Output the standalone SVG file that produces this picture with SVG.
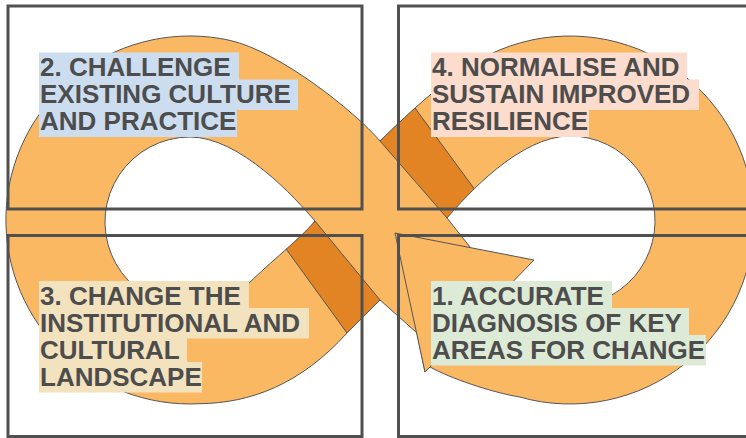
<svg xmlns="http://www.w3.org/2000/svg" width="746" height="438" viewBox="0 0 746 438">
<defs>
<style>
.band{fill:#FAB863;stroke:none}
.edge{fill:none;stroke:#555;stroke-width:1}
.dark{fill:#E28424;stroke:none}
.box{fill:none;stroke:#505050;stroke-width:3}
.lbl{font-family:"Liberation Sans",Arial,sans-serif;font-weight:bold;font-size:26px;fill:#4d4d4d}
</style>
<path id="loopShape" d="M380,141 C409,113 453.7,69 500,49.8 A184,184 0 1 1 520,397.1 C490,392 450,378 430,367 L425,372 L417,333 L380,300 L347,333 C300,385 250,403 200,403.7 A184,184 0 1 1 230,40.4 C278.8,51.3 354,110.6 380,141 Z M315,221 C295.5,198.2 240,137 190,137 A85,85 0 1 0 250,282.2 C267.7,264.5 302.4,236.6 315,221 Z M447,218 C466.6,195.3 520,136 570,136 A85,85 0 1 1 530,296 L500,292 L470,247 Z"/>
<clipPath id="clipLoop"><use href="#loopShape" clip-rule="evenodd"/></clipPath>
</defs>
<rect width="746" height="438" fill="#ffffff"/>
<g id="connectors">
<use href="#loopShape" class="band" fill-rule="evenodd"/>
<g clip-path="url(#clipLoop)">
<polygon class="dark" points="305.25,209.15 389.75,311.85 355.7,345 280.3,241"/>
<polygon class="dark" points="370,129.5 457,229.5 481.7,198.9 406.3,96.2"/>
<path class="edge" d="M280.3,241 L355.7,345 M406.3,96.2 L481.7,198.9"/>
</g>
<use href="#loopShape" class="edge"/>
<path class="edge" d="M380,141 L447,218 M315,221 L380,300"/>
<polygon class="band" points="395,233 534,260 425,372" style="stroke:#555;stroke-width:1"/>
</g>
<g id="step2">
<rect class="box" x="8" y="6" width="354" height="203"/>
<rect x="39" y="52.5" width="200" height="30.5" fill="#CCDDF0"/>
<rect x="39" y="79.5" width="259" height="30.5" fill="#CCDDF0"/>
<rect x="39" y="106.5" width="198" height="30.5" fill="#CCDDF0"/>
<text class="lbl"><tspan x="40" y="76">2. CHALLENGE</tspan><tspan x="40" y="103">EXISTING CULTURE</tspan><tspan x="40" y="130">AND PRACTICE</tspan></text>
</g>
<g id="step4">
<rect class="box" x="398.5" y="6" width="360" height="203"/>
<rect x="431" y="52.5" width="256" height="30.5" fill="#FCDCCD"/>
<rect x="431" y="79.5" width="268" height="30.5" fill="#FCDCCD"/>
<rect x="431" y="106.5" width="158" height="30.5" fill="#FCDCCD"/>
<text class="lbl"><tspan x="432" y="76">4. NORMALISE AND</tspan><tspan x="432" y="103">SUSTAIN IMPROVED</tspan><tspan x="432" y="130">RESILIENCE</tspan></text>
</g>
<g id="step3">
<rect class="box" x="8" y="235.5" width="354" height="201"/>
<rect x="39" y="281" width="210" height="30.5" fill="#F2E2BE"/>
<rect x="39" y="308" width="270" height="30.5" fill="#F2E2BE"/>
<rect x="39" y="335" width="148" height="30.5" fill="#F2E2BE"/>
<rect x="39" y="362" width="163" height="30.5" fill="#F2E2BE"/>
<text class="lbl"><tspan x="40" y="304.5">3. CHANGE THE</tspan><tspan x="40" y="331.5">INSTITUTIONAL AND</tspan><tspan x="40" y="358.5">CULTURAL</tspan><tspan x="40" y="385.5">LANDSCAPE</tspan></text>
</g>
<g id="step1">
<rect class="box" x="398.5" y="235.5" width="360" height="201"/>
<rect x="431" y="281" width="181" height="30.5" fill="#DDEAD5"/>
<rect x="431" y="308" width="258" height="30.5" fill="#DDEAD5"/>
<rect x="431" y="335" width="275" height="30.5" fill="#DDEAD5"/>
<text class="lbl"><tspan x="432" y="304.5">1. ACCURATE</tspan><tspan x="432" y="331.5">DIAGNOSIS OF KEY</tspan><tspan x="432" y="358.5">AREAS FOR CHANGE</tspan></text>
</g>
</svg>
